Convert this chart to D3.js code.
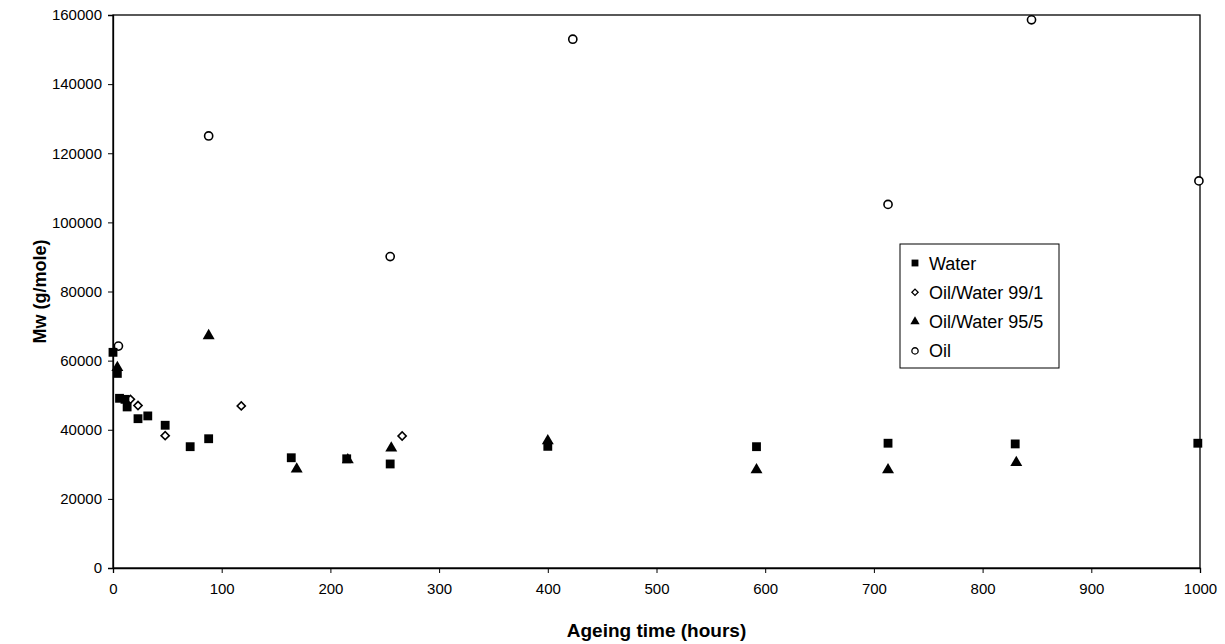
<!DOCTYPE html>
<html>
<head>
<meta charset="utf-8" />
<title>Mw vs ageing time</title>
<script src="https://cdn.jsdelivr.net/npm/d3@7"></script>
<style>
  body { margin: 0; background: #fff; }
  text { font-family: Arial, "Liberation Sans", sans-serif; }
</style>
</head>
<body>
<svg width="1225" height="644"></svg>
<script>
// data: [hours, Mw]
var water = [[0,62400],[4,56300],[6,49100],[11,48800],[13,46600],[23,43200],[32,44000],[48,41300],
             [71,35100],[88,37400],[164,31900],[215,31600],[255,30100],[400,35200],[592,35100],
             [713,36100],[830,35900],[998,36100]]
var oilWater991 = [[16,48800],[23,47000],[48,38300],[118,46900],[266,38200]]
var oilWater955 = [[4,58000],[88,67200],[169,28600],[216,31300],[256,34700],[400,36800],
                   [592,28400],[713,28400],[831,30500]]
var oil = [[5,64200],[88,125000],[255,90100],[423,153000],[713,105200],[845,158600],[999,112000]]

var seriesNames = ['Water', 'Oil/Water 99/1', 'Oil/Water 95/5', 'Oil']
var xTicks = d3.range(0, 1001, 100)
var yTicks = d3.range(0, 160001, 20000)

var marge = {top:15, bottom:76, left:113, right:25}
var svg = d3.select('svg')
var width = +svg.attr('width')
var height = +svg.attr('height')
var w = width - marge.left - marge.right
var h = height - marge.top - marge.bottom

var g = svg.append('g').attr('transform', `translate(${marge.left},${marge.top})`)

var xScale = d3.scaleLinear().domain([0, 1000]).range([0, w])
var yScale = d3.scaleLinear().domain([0, 160000]).range([h, 0])

// frame
g.append('rect').attr('width', w).attr('height', h)
  .attr('fill', 'none').attr('stroke', '#000').attr('stroke-width', 1.3)

var xAxis = g.append('g').attr('transform', `translate(0,${h})`)
  .call(d3.axisBottom(xScale).tickValues(xTicks).tickSize(5).tickPadding(10).tickFormat(d3.format('d')))
var yAxis = g.append('g')
  .call(d3.axisLeft(yScale).tickValues(yTicks).tickSize(5).tickPadding(6).tickFormat(d3.format('d')))

;[xAxis, yAxis].forEach(function(a){
  a.select('.domain').attr('stroke', '#000').attr('stroke-width', 1.3)
  a.selectAll('.tick line').attr('stroke', '#000')
  a.selectAll('.tick text').attr('font-size', '15px').attr('fill', '#000')
    .style('font-family', 'Arial, "Liberation Sans", sans-serif')
})

// axis titles
svg.append('text')
  .attr('x', marge.left + w / 2).attr('y', 637)
  .attr('text-anchor', 'middle').attr('font-size', '19px').attr('font-weight', 'bold')
  .text('Ageing time (hours)')
svg.append('text')
  .attr('transform', `translate(46,${marge.top + h / 2}) rotate(-90)`)
  .attr('text-anchor', 'middle').attr('font-size', '18px').attr('font-weight', 'bold')
  .text('Mw (g/mole)')

// marker shapes (diamond = square turned 45deg)
var shapes = [
  {type: d3.symbolSquare, size: 78, rot: 0, fill: '#000', stroke: 'none'},
  {type: d3.symbolSquare, size: 33, rot: 45, fill: '#fff', stroke: '#000'},
  {type: d3.symbolTriangle, size: 62, rot: 0, fill: '#000', stroke: 'none'},
  {type: d3.symbolCircle, size: 52, rot: 0, fill: '#fff', stroke: '#000'}
]
var allSeries = [water, oilWater991, oilWater955, oil]

// draw Oil and 99/1 first so squares/triangles sit on top like the reference
var order = [3, 1, 2, 0]
order.forEach(function(si){
  var s = shapes[si]
  g.selectAll('.s' + si)
    .data(allSeries[si])
    .enter()
    .append('path')
    .attr('class', 's' + si)
    .attr('d', d3.symbol().type(s.type).size(s.size))
    .attr('transform', d => `translate(${xScale(d[0])},${yScale(d[1])}) rotate(${s.rot})`)
    .attr('fill', s.fill)
    .attr('stroke', s.stroke)
    .attr('stroke-width', 1.6)
})

// legend
var lg = svg.append('g').attr('transform', 'translate(900,244)')
lg.append('rect').attr('width', 159).attr('height', 124)
  .attr('fill', '#fff').attr('stroke', '#000').attr('stroke-width', 1)
seriesNames.forEach(function(name, i){
  var s = shapes[i]
  var row = lg.append('g').attr('transform', `translate(15,${19 + i * 29.3})`)
  row.append('path')
    .attr('d', d3.symbol().type(s.type).size(s.size * 0.6))
    .attr('transform', `rotate(${s.rot})`)
    .attr('fill', s.fill).attr('stroke', s.stroke).attr('stroke-width', 1.3)
  row.append('text').attr('x', 14).attr('y', 6.5)
    .attr('font-size', '18px').text(name)
})
</script>
</body>
</html>
